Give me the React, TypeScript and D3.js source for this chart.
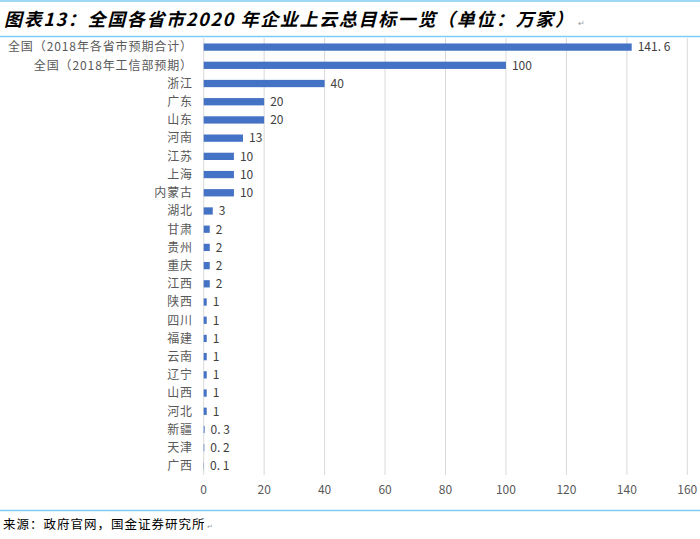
import React from "react";
import * as d3 from "d3";

const categories = [
  "全国（2018年各省市预期合计）",
  "全国（2018年工信部预期）",
  "浙江", "广东", "山东", "河南", "江苏", "上海", "内蒙古", "湖北",
  "甘肃", "贵州", "重庆", "江西", "陕西", "四川", "福建", "云南",
  "辽宁", "山西", "河北", "新疆", "天津", "广西",
];
const values = [141.6, 100, 40, 20, 20, 13, 10, 10, 10, 3, 2, 2, 2, 2, 1, 1, 1, 1, 1, 1, 1, 0.3, 0.2, 0.1];
const xTicks = [0, 20, 40, 60, 80, 100, 120, 140, 160];
const titleText = "图表13：全国各省市2020 年企业上云总目标一览（单位：万家）";
const sourceText = "来源：政府官网，国金证券研究所";

export default function App() {
  const W = 700, H = 539;
  const x = d3.scaleLinear().domain([0, 160]).range([203.7, 687.3]);
  const y = d3.scaleBand<string>().domain(categories).range([38, 475]).paddingInner(0.6).paddingOuter(0.3);
  const font = "'Noto Sans CJK SC', 'Noto Sans', sans-serif";
  const fmt = (v: number) => String(v).replace(".", ". ");
  return (
    <svg width={W} height={H} style={{ position: "absolute", left: 0, top: 0, background: "#fff" }} fontFamily={font}>
      <line x1={0} x2={W} y1={1} y2={1} stroke="#7ccdf2" strokeWidth={1.5} />
      <text x={4} y={26} fontSize={18} fontWeight="bold" fontStyle="italic" fill="#000" letterSpacing={1.65}>
        {titleText}
        <tspan fontSize={8} fill="#999" fontStyle="normal" fontWeight="normal" dx={3}>↵</tspan>
      </text>
      <line x1={0} x2={W} y1={36.5} y2={36.5} stroke="#7ccdf2" strokeWidth={1.5} />
      {xTicks.map((t) => (
        <g key={t}>
          <line x1={x(t)} x2={x(t)} y1={38} y2={475} stroke="#d9d9d9" strokeWidth={1} />
          <text x={x(t)} y={494} fontSize={12} fill="#595959" textAnchor="middle">{t}</text>
        </g>
      ))}
      {categories.map((c, i) => {
        const yc = (y(c) as number) + y.bandwidth() / 2;
        return (
          <g key={c}>
            <rect x={x(0)} y={y(c)} width={x(values[i]) - x(0)} height={y.bandwidth()} fill="#4472c4" />
            <text x={193} y={yc} dy="0.36em" fontSize={12} fill="#595959" textAnchor="end" letterSpacing={0.9}>{c}</text>
            <text x={x(values[i]) + 6} y={yc} dy="0.36em" fontSize={12} fill="#404040" style={{ whiteSpace: "pre" }}>{fmt(values[i])}</text>
          </g>
        );
      })}
      <line x1={0} x2={W} y1={510.5} y2={510.5} stroke="#7ccdf2" strokeWidth={1.5} />
      <text x={3} y={529} fontSize={12.5} fill="#000" letterSpacing={1}>
        {sourceText}
        <tspan fontSize={7} fill="#999" dx={1}>↵</tspan>
      </text>
    </svg>
  );
}
